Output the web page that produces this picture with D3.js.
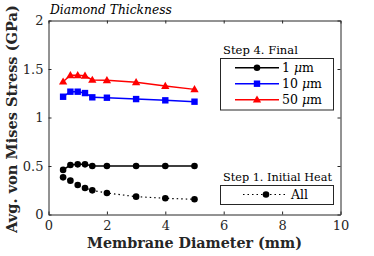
<!DOCTYPE html>
<html><head><meta charset="utf-8">
<script src="https://cdn.jsdelivr.net/npm/d3@7"></script>
<style>body{margin:0;background:#fff}svg{display:block}</style>
</head><body><svg id="c" width="374" height="256"></svg>
<script>
const diam = [0.5, 0.75, 1, 1.25, 1.5, 2, 3, 4, 5];
const final1 = [0.46, 0.51, 0.517, 0.517, 0.50, 0.50, 0.50, 0.50, 0.50];
const final10 = [1.214, 1.266, 1.266, 1.252, 1.208, 1.204, 1.19, 1.177, 1.163];
const final50 = [1.369, 1.435, 1.435, 1.43, 1.387, 1.383, 1.363, 1.325, 1.29];
const initAll = [0.383, 0.349, 0.304, 0.273, 0.249, 0.222, 0.184, 0.167, 0.157];
const xTicks = [0, 2, 4, 6, 8, 10];
const yTicks = [0, 0.5, 1, 1.5, 2];

const svg = d3.select("#c");
const L = 48.5, R = 340.5, T = 20.5, B = 214.5;
const x = d3.scaleLinear().domain([0, 10]).range([L, R]);
const y = d3.scaleLinear().domain([0, 2]).range([B, T]);
const font = "'DejaVu Serif', 'Liberation Serif', 'Noto Serif', 'Times New Roman', serif";
const axCol = "#262626";

function fit(sel, w) {
  const n = sel.node();
  const fs = +sel.attr("font-size");
  const cw = n.getComputedTextLength();
  if (cw > 0) sel.attr("font-size", fs * w / cw);
  return sel;
}

const gx = svg.append("g").attr("transform", `translate(0,${B})`)
  .call(d3.axisBottom(x).tickValues(xTicks).tickSizeInner(-3).tickSizeOuter(0).tickPadding(6).tickFormat(d3.format("d")));
const gxt = svg.append("g").attr("transform", `translate(0,${T})`)
  .call(d3.axisTop(x).tickValues(xTicks).tickSizeInner(-3).tickSizeOuter(0).tickFormat(""));
const gy = svg.append("g").attr("transform", `translate(${L},0)`)
  .call(d3.axisLeft(y).tickValues(yTicks).tickSizeInner(-3).tickSizeOuter(0).tickPadding(5).tickFormat(d => String(d)));
const gyr = svg.append("g").attr("transform", `translate(${R},0)`)
  .call(d3.axisRight(y).tickValues(yTicks).tickSizeInner(-3).tickSizeOuter(0).tickFormat(""));
[gx, gxt, gy, gyr].forEach(g => {
  g.selectAll("path.domain").attr("stroke", axCol).attr("stroke-width", 1);
  g.selectAll(".tick line").attr("stroke", axCol);
  g.selectAll("text").style("font-family", font).attr("font-size", 13).attr("fill", axCol);
});

const line = d3.line().x((d, i) => x(diam[i])).y(d => y(d));
const series = [
  {v: final1, c: "#000", m: "circle", dash: null},
  {v: final10, c: "#0000ff", m: "square", dash: null},
  {v: final50, c: "#ff0000", m: "triangle", dash: null},
  {v: initAll, c: "#000", m: "circle", dash: "1.5,3"}
];
function marker(g, type, cx, cy, col) {
  if (type === "circle") g.append("circle").attr("cx", cx).attr("cy", cy).attr("r", 3.3).attr("fill", col);
  else if (type === "square") g.append("rect").attr("x", cx - 3.2).attr("y", cy - 3.2).attr("width", 6.4).attr("height", 6.4).attr("fill", col);
  else g.append("path").attr("d", d3.symbol(d3.symbolTriangle, 30)()).attr("transform", `translate(${cx},${cy + 0.5})`).attr("fill", col);
}
series.forEach(s => {
  svg.append("path").datum(s.v).attr("d", line).attr("fill", "none").attr("stroke", s.c)
    .attr("stroke-width", s.dash ? 1.2 : 1.5).attr("stroke-dasharray", s.dash);
  const g = svg.append("g");
  s.v.forEach((d, i) => marker(g, s.m, x(diam[i]), y(d), s.c));
});

function txt(xp, yp, fs) {
  return svg.append("text").attr("x", xp).attr("y", yp).style("font-family", font).attr("font-size", fs).attr("fill", "#000");
}

// title
fit(txt(50, 14, 13).attr("font-style", "italic").text("Diamond Thickness"), 122);

// axis labels
fit(txt(194.5, 248, 15).attr("text-anchor", "middle").attr("font-weight", "bold").attr("fill", axCol)
  .text("Membrane Diameter (mm)"), 215);
fit(svg.append("text").attr("transform", `translate(17,119) rotate(-90)`).attr("text-anchor", "middle")
  .style("font-family", font).attr("font-weight", "bold").attr("font-size", 15).attr("fill", axCol)
  .text("Avg. von Mises Stress (GPa)"), 228);

// legend 1
const leg1 = [{lab: "1 ", s: series[0]}, {lab: "10 ", s: series[1]}, {lab: "50 ", s: series[2]}];
fit(txt(223, 54, 12).text("Step 4. Final"), 75);
svg.append("rect").attr("x", 220.5).attr("y", 58.5).attr("width", 113).attr("height", 51.5).attr("fill", "#fff").attr("stroke", axCol).attr("stroke-width", 1);
leg1.forEach((e, i) => {
  const yy = 67.7 + i * 16;
  svg.append("line").attr("x1", 235).attr("x2", 279).attr("y1", yy).attr("y2", yy).attr("stroke", e.s.c).attr("stroke-width", 1.5);
  marker(svg, e.s.m, 257, yy, e.s.c);
  const t = txt(282, yy + 4.5, 12.5);
  t.append("tspan").text(e.lab);
  t.append("tspan").attr("font-style", "italic").text("μ");
  t.append("tspan").text("m");
});

// legend 2
fit(txt(223, 181, 12).text("Step 1. Initial Heat"), 109);
svg.append("rect").attr("x", 220.5).attr("y", 185.5).attr("width", 113).attr("height", 19).attr("fill", "#fff").attr("stroke", axCol).attr("stroke-width", 1);
svg.append("line").attr("x1", 243).attr("x2", 288).attr("y1", 194.5).attr("y2", 194.5).attr("stroke", "#000").attr("stroke-width", 1.2).attr("stroke-dasharray", "1.5,3");
marker(svg, "circle", 266, 194.5, "#000");
txt(291, 199, 12.5).text("All");
</script></body></html>
